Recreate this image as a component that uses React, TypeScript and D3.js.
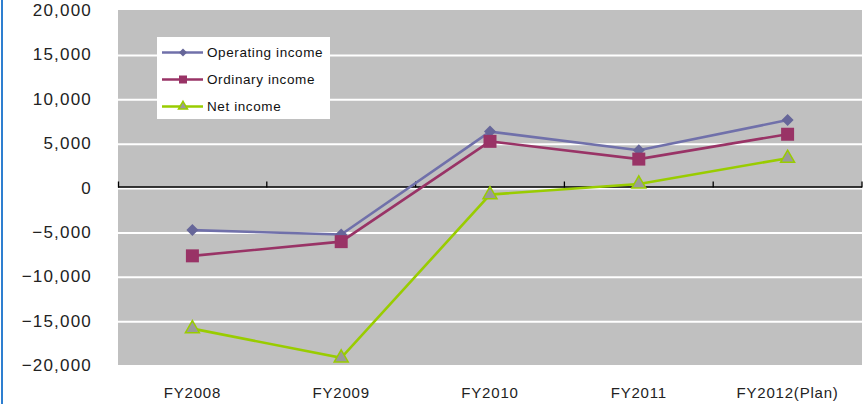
import React from 'react';
import * as d3 from 'd3';

const WIDTH = 864;
const HEIGHT = 404;

const categories = ['FY2008', 'FY2009', 'FY2010', 'FY2011', 'FY2012(Plan)'];
const operatingIncome = [-4800, -5300, 6300, 4200, 7600];
const ordinaryIncome = [-7700, -6100, 5200, 3200, 6000];
const netIncome = [-15900, -19200, -800, 400, 3300];
const yTicks = [-20000, -15000, -10000, -5000, 0, 5000, 10000, 15000, 20000];

const plot = { l: 118, r: 862, t: 10, b: 365 };

type Series = {
  name: string;
  values: number[];
  line: string;
  fill: string;
  stroke: string;
  symbol: 'diamond' | 'square' | 'triangle';
};

const series: Series[] = [
  { name: 'Operating income', values: operatingIncome, line: '#7070aa', fill: '#666699', stroke: 'none', symbol: 'diamond' },
  { name: 'Ordinary income', values: ordinaryIncome, line: '#993366', fill: '#993366', stroke: 'none', symbol: 'square' },
  { name: 'Net income', values: netIncome, line: '#99cc00', fill: '#9a9a9a', stroke: '#99cc00', symbol: 'triangle' },
];

// marker path, size = rough width in px
const markerPath = (kind: Series['symbol'], size: number) => {
  if (kind === 'diamond') return d3.symbol(d3.symbolSquare, size * size * 0.5)() as string;
  if (kind === 'square') return d3.symbol(d3.symbolSquare, size * size)() as string;
  return d3.symbol(d3.symbolTriangle, (Math.sqrt(3) / 4) * size * size)() as string;
};

const Marker = ({ s, x, y, size }: { s: Series; x: number; y: number; size: number }) => (
  <path
    d={markerPath(s.symbol, size)}
    transform={`translate(${x},${y})${s.symbol === 'diamond' ? ' rotate(45)' : ''}`}
    fill={s.fill}
    stroke={s.stroke}
    strokeWidth={s.stroke === 'none' ? 0 : 1.5}
  />
);

const App = () => {
  const x = d3.scaleBand<string>().domain(categories).range([plot.l, plot.r]);
  const y = d3.scaleLinear().domain([-20000, 20000]).range([plot.b, plot.t]);
  const cx = (c: string) => (x(c) as number) + x.bandwidth() / 2;
  const fmt = d3.format(',');

  const line = d3
    .line<number>()
    .x((_, i) => cx(categories[i]))
    .y((d) => y(d));

  const labelFont = '"Liberation Sans", Arial, sans-serif';

  return (
    <svg width={WIDTH} height={HEIGHT} style={{ position: 'absolute', left: 0, top: 0 }}>
      <rect x={0} y={0} width={WIDTH} height={HEIGHT} fill="#fff" />
      <rect x={1} y={0} width={2} height={HEIGHT} fill="#2e7fd0" />

      {/* plot area */}
      <rect x={plot.l} y={plot.t} width={plot.r - plot.l} height={plot.b - plot.t} fill="#c0c0c0" />
      {yTicks
        .filter((t) => t !== 20000 && t !== -20000)
        .map((t) => (
          <line key={t} x1={plot.l} x2={plot.r} y1={y(t) + 1} y2={y(t) + 1} stroke="#fff" strokeWidth={2} />
        ))}

      {/* zero axis */}
      <line x1={plot.l} x2={plot.r} y1={y(0) - 0.5} y2={y(0) - 0.5} stroke="#000" strokeWidth={1.3} />
      {categories.map((c) => (
        <line
          key={c}
          x1={(x(c) as number) + x.bandwidth()}
          x2={(x(c) as number) + x.bandwidth()}
          y1={y(0) - 6}
          y2={y(0)}
          stroke="#000"
          strokeWidth={1.3}
        />
      ))}
      <line x1={plot.l + 0.5} x2={plot.l + 0.5} y1={y(0) - 6} y2={y(0)} stroke="#000" strokeWidth={1.3} />

      {/* y labels */}
      {yTicks.map((t) => (
        <text
          key={t}
          x={92}
          y={y(t)}
          dy="0.36em"
          textAnchor="end"
          fontFamily={labelFont}
          fontSize={17}
          letterSpacing={1.2}
          fill="#222"
        >
          {fmt(t).replace('-', '−')}
        </text>
      ))}

      {/* x labels */}
      {categories.map((c) => (
        <text
          key={c}
          x={cx(c)}
          y={393}
          dy="0.36em"
          textAnchor="middle"
          fontFamily={labelFont}
          fontSize={15}
          letterSpacing={0.8}
          fill="#222"
        >
          {c}
        </text>
      ))}

      {/* series */}
      {series.map((s) => (
        <path key={s.name} d={line(s.values) as string} fill="none" stroke={s.line} strokeWidth={2.6} />
      ))}
      {series.map((s) => (
        <g key={`m-${s.name}`}>
          {s.values.map((v, i) => (
            <Marker
              key={i}
              s={s}
              x={cx(categories[i])}
              y={y(v)}
              size={s.symbol === 'diamond' ? 12 : s.symbol === 'square' ? 13 : 14}
            />
          ))}
        </g>
      ))}

      {/* legend */}
      <g transform="translate(157,37)">
        <rect x={0} y={0} width={173} height={82} fill="#fff" />
        {series.map((s, i) => {
          const ly = 15.5 + i * 27;
          return (
            <g key={s.name}>
              <line x1={5} x2={46} y1={ly} y2={ly} stroke={s.line} strokeWidth={2.6} />
              <Marker s={s} x={26} y={ly} size={s.symbol === 'diamond' ? 8 : s.symbol === 'square' ? 8 : 9} />
              <text x={50} y={ly} dy="0.36em" fontFamily={labelFont} fontSize={13.5} letterSpacing={0.6} fill="#111">
                {s.name}
              </text>
            </g>
          );
        })}
      </g>
    </svg>
  );
};

export default App;
